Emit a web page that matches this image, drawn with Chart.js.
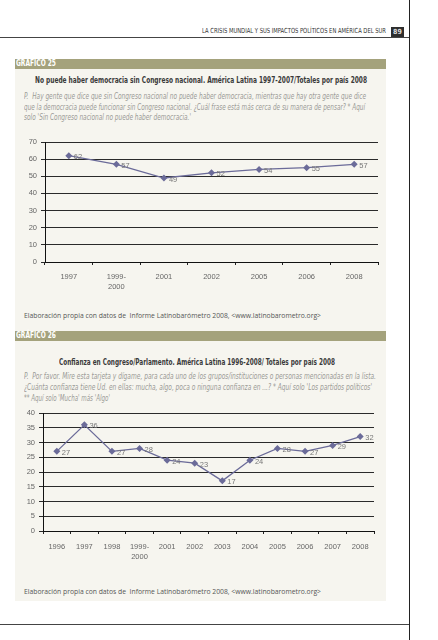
<!DOCTYPE html>
<html>
<head>
<meta charset="utf-8">
<script src="https://cdn.jsdelivr.net/npm/chart.js@4.4.0/dist/chart.umd.min.js"></script>
<style>
  html, body { margin:0; padding:0; background:#fff; }
  body { width:438px; height:640px; position:relative; overflow:hidden; }
  .abs { position:absolute; }
  .t { position:absolute; white-space:nowrap; transform-origin:0 50%; display:inline-block; }
  .cond { font-family:"Liberation Sans Narrow","DejaVu Sans Condensed","Roboto",sans-serif; }
  .panel { position:absolute; left:15px; width:371px; background:#f6f5ef; }
  .bar { position:absolute; left:15px; width:371px; height:10px; background:#a4a27c; }
  .q { font-style:italic; color:#9a9a96; font-size:8px; line-height:10px; }
  .title { font-weight:bold; color:#3a3a3a; font-size:9px; line-height:12px; }
  .src { font-family:"Open Sans","Lato",sans-serif; color:#555; font-size:7px; line-height:10px; }
  .gtxt { color:#fff; font-weight:bold; font-size:8px; line-height:10px; }
  .chartbox { position:absolute; left:0; width:438px; height:170px; }
</style>
</head>
<body>
<!-- page frame -->
<div class="abs" style="left:0;top:37px;width:409px;height:1px;background:#444;"></div>
<div class="abs" style="left:409px;top:0;width:1px;height:640px;background:#222;"></div>
<div class="abs" style="left:0;top:624px;width:409px;height:1px;background:#444;"></div>
<div class="t cond" data-w="184" style="left:202px;top:26px;font-size:7px;line-height:10px;color:#333;">LA CRISIS MUNDIAL Y SUS IMPACTOS POLÍTICOS EN AMÉRICA DEL SUR</div>
<div class="abs cond" style="left:391px;top:27px;width:13px;height:10px;background:#2e2e2e;color:#ddd;font-size:7px;line-height:10px;text-align:center;font-weight:bold;">89</div>

<!-- panel 1 -->
<div class="bar" style="top:59px;"></div>
<div class="panel" style="top:69px;height:262px;"></div>
<div class="t cond gtxt" data-w="40" style="left:16px;top:59px;">GRÁFICO 25</div>
<div class="t cond title" data-w="332" style="left:34.5px;top:74px;">No puede haber democracia sin Congreso nacional. América Latina 1997-2007/Totales por país 2008</div>
<div class="t cond q" data-w="342" style="left:24px;top:92px;">P.&nbsp; Hay gente que dice que sin Congreso nacional no puede haber democracia, mientras que hay otra gente que dice</div>
<div class="t cond q" data-w="341" style="left:24px;top:102.5px;">que la democracia puede funcionar sin Congreso nacional. ¿Cuál frase está más cerca de su manera de pensar? * Aquí</div>
<div class="t cond q" data-w="167" style="left:24px;top:113px;">solo 'Sin Congreso nacional no puede haber democracia.'</div>
<div class="chartbox" style="top:130px;"><canvas id="c1"></canvas></div>
<div class="t src" data-w="297" style="left:24px;top:311px;">Elaboración propia con datos de&nbsp; Informe Latinobarómetro 2008, &lt;www.latinobarometro.org&gt;</div>

<!-- panel 2 -->
<div class="bar" style="top:331px;"></div>
<div class="panel" style="top:341px;height:260px;"></div>
<div class="t cond gtxt" data-w="40" style="left:16px;top:331px;">GRÁFICO 26</div>
<div class="t cond title" data-w="276" style="left:58.7px;top:355.7px;">Confianza en Congreso/Parlamento. América Latina 1996-2008/ Totales por país 2008</div>
<div class="t cond q" data-w="352" style="left:24px;top:372px;">P.&nbsp; Por favor. Mire esta tarjeta y dígame, para cada uno de los grupos/instituciones o personas mencionadas en la lista.</div>
<div class="t cond q" data-w="348" style="left:24px;top:383px;">¿Cuánta confianza tiene Ud. en ellas: mucha, algo, poca o ninguna confianza en ...? * Aquí solo 'Los partidos políticos'</div>
<div class="t cond q" data-w="86" style="left:24px;top:394px;">** Aquí solo 'Mucha' más 'Algo'</div>
<div class="chartbox" style="top:400px;"><canvas id="c2"></canvas></div>
<div class="t src" data-w="297" style="left:24px;top:587px;">Elaboración propia con datos de&nbsp; Informe Latinobarómetro 2008, &lt;www.latinobarometro.org&gt;</div>

<script>
// ---- data ----
const categories1 = ['1997', ['1999-', '2000'], '2001', '2002', '2005', '2006', '2008'];
const values1 = [62, 57, 49, 52, 54, 55, 57];
const yTicks1 = [0, 10, 20, 30, 40, 50, 60, 70];

const categories2 = ['1996', '1997', '1998', ['1999-', '2000'], '2001', '2002', '2003', '2004', '2005', '2006', '2007', '2008'];
const values2 = [27, 36, 27, 28, 24, 23, 17, 24, 28, 27, 29, 32];
const yTicks2 = [0, 5, 10, 15, 20, 25, 30, 35, 40];

// ---- fit text widths ----
document.querySelectorAll('[data-w]').forEach(el => {
  const w = el.getBoundingClientRect().width;
  const target = parseFloat(el.dataset.w);
  if (w > 0) el.style.transform = 'scaleX(' + (target / w) + ')';
});

const LINE = '#6b6b99';
const valueLabels = {
  id: 'valueLabels',
  afterDatasetsDraw(chart) {
    const ctx = chart.ctx;
    const meta = chart.getDatasetMeta(0);
    const data = chart.data.datasets[0].data;
    ctx.save();
    ctx.font = '7.5px "Liberation Sans", Arial, sans-serif';
    ctx.fillStyle = '#777';
    ctx.textAlign = 'left';
    ctx.textBaseline = 'middle';
    meta.data.forEach((pt, i) => {
      ctx.fillText(String(data[i]), pt.x + 5, pt.y + 1.5);
    });
    ctx.restore();
  }
};

function makeChart(id, labels, values, ticks, pad, xHeight, labelPad) {
  const yMax = ticks[ticks.length - 1];
  const step = ticks[1] - ticks[0];
  return new Chart(document.getElementById(id), {
    type: 'line',
    data: {
      labels: labels,
      datasets: [{
        data: values,
        borderColor: LINE,
        borderWidth: 1.3,
        backgroundColor: LINE,
        pointStyle: 'rectRot',
        pointRadius: 3.5,
        pointBorderWidth: 0,
        tension: 0,
        fill: false
      }]
    },
    options: {
      responsive: true,
      maintainAspectRatio: false,
      animation: false,
      devicePixelRatio: 1,
      layout: { padding: pad },
      plugins: { legend: { display: false }, tooltip: { enabled: false } },
      scales: {
        x: {
          type: 'category',
          offset: true,
          grid: { offset: true, drawOnChartArea: false, drawTicks: true, tickLength: 3, color: '#222', lineWidth: 1 },
          border: { color: '#111', width: 1 },
          ticks: {
            color: '#666', autoSkip: false, maxRotation: 0, padding: labelPad,
            font: { family: '"Liberation Sans", Arial, sans-serif', size: 7.5, lineHeight: 1.45 }
          },
          afterFit(scale) { scale.height = xHeight; }
        },
        y: {
          min: 0, max: yMax,
          afterBuildTicks(scale) { scale.ticks = ticks.map(v => ({ value: v })); },
          grid: { color: '#2a2a2a', lineWidth: 1, drawTicks: true, tickLength: 4 },
          border: { color: '#111', width: 1 },
          ticks: {
            stepSize: step, color: '#666', padding: 4,
            font: { family: '"Liberation Sans", Arial, sans-serif', size: 7.5 }
          },
          afterFit(scale) { scale.width = 30; }
        }
      }
    },
    plugins: [valueLabels]
  });
}

makeChart('c1', categories1, values1, yTicks1, { left: 15, right: 60, top: 12, bottom: 0 }, 38, 6);
makeChart('c2', categories2, values2, yTicks2, { left: 13, right: 64, top: 13, bottom: 0 }, 39, 7);
</script>
</body>
</html>
